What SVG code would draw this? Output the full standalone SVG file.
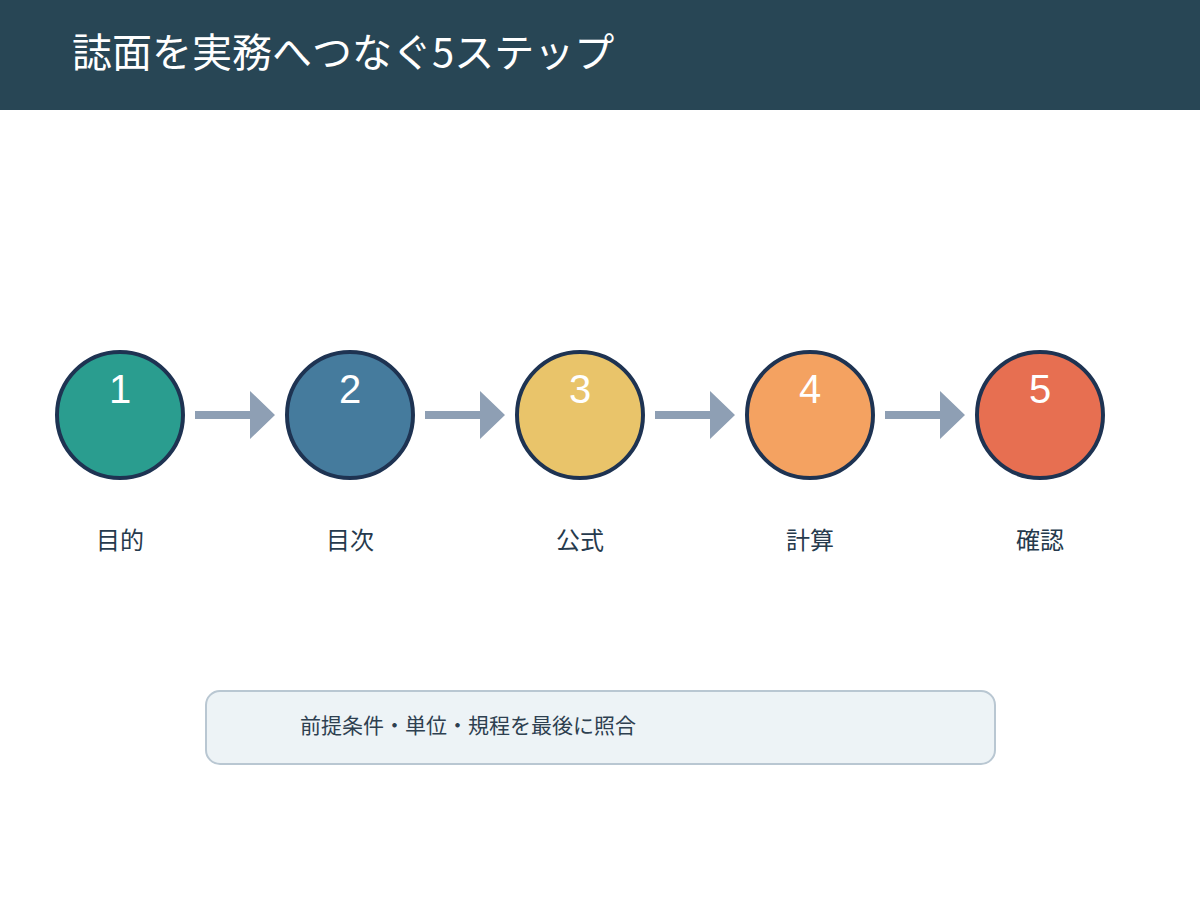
<svg xmlns="http://www.w3.org/2000/svg" width="1200" height="900" viewBox="0 0 1200 900">
<style>
.c{stroke:#1e3352;stroke-width:4}
.n{font-family:"Liberation Sans","Noto Sans CJK JP",sans-serif;font-size:40px;fill:#fff;text-anchor:middle}
.l{font-family:"Noto Sans CJK JP",sans-serif;font-size:24px;fill:#263a4d;text-anchor:middle}
.a{fill:#8e9fb4}
</style>
<rect width="1200" height="900" fill="#fff"/>
<rect width="1200" height="110" fill="#284655"/>
<text x="72" y="67" font-family="Noto Sans CJK JP,sans-serif" font-size="40" fill="#fff">誌面を実務へつなぐ5ステップ</text>
<g id="connectors">
<path class="a" d="M195 411h55v-20l25 24-25 24v-20h-55z"/>
<path class="a" d="M425 411h55v-20l25 24-25 24v-20h-55z"/>
<path class="a" d="M655 411h55v-20l25 24-25 24v-20h-55z"/>
<path class="a" d="M885 411h55v-20l25 24-25 24v-20h-55z"/>
</g>
<g id="n1"><circle class="c" cx="120" cy="415" r="63" fill="#2a9d8f"/><text class="n" x="120" y="403">1</text><text class="l" x="120" y="549">目的</text></g>
<g id="n2"><circle class="c" cx="350" cy="415" r="63" fill="#457b9d"/><text class="n" x="350" y="403">2</text><text class="l" x="350" y="549">目次</text></g>
<g id="n3"><circle class="c" cx="580" cy="415" r="63" fill="#e9c46a"/><text class="n" x="580" y="403">3</text><text class="l" x="580" y="549">公式</text></g>
<g id="n4"><circle class="c" cx="810" cy="415" r="63" fill="#f4a261"/><text class="n" x="810" y="403">4</text><text class="l" x="810" y="549">計算</text></g>
<g id="n5"><circle class="c" cx="1040" cy="415" r="63" fill="#e76f51"/><text class="n" x="1040" y="403">5</text><text class="l" x="1040" y="549">確認</text></g>
<g id="note"><rect x="206" y="691" width="789" height="73" rx="14" fill="#edf3f6" stroke="#b9c7d2" stroke-width="2"/>
<text x="300" y="733" font-family="Noto Sans CJK JP,sans-serif" font-size="21" fill="#2e4050">前提条件・単位・規程を最後に照合</text></g>
</svg>
